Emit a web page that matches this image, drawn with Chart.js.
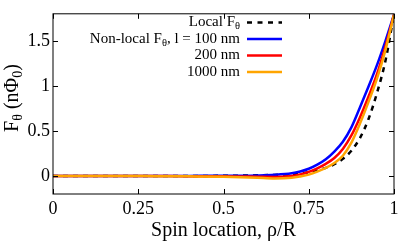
<!DOCTYPE html>
<html lang="en">
<head>
<meta charset="UTF-8">
<title>Spin location chart</title>
<script src="https://cdn.jsdelivr.net/npm/chart.js"></script>
<style>
  html, body { margin: 0; padding: 0; background: #fff; }
  #wrap { width: 407px; height: 244px; }
</style>
</head>
<body>
<div id="wrap"><canvas id="fChart" width="407" height="244"></canvas></div>
<script>
// spin location rho/R
const rho = [0, 0.1, 0.2, 0.3, 0.4, 0.5, 0.55, 0.6, 0.65, 0.7, 0.725, 0.75, 0.775, 0.8, 0.825, 0.85, 0.875, 0.9, 0.925, 0.95, 0.975, 1];
// F_theta in n Phi_0
const localF = [0, 0, 0, 0, 0, 0.002, 0.004, 0.007, 0.012, 0.02, 0.028, 0.04, 0.06, 0.09, 0.13, 0.19, 0.28, 0.42, 0.63, 0.92, 1.28, 1.80];
const nonLocal100 = [0, 0, 0, 0, 0.001, 0.002, 0.003, 0.006, 0.013, 0.03, 0.05, 0.08, 0.125, 0.185, 0.27, 0.38, 0.54, 0.76, 0.99, 1.23, 1.50, 1.79];
const nonLocal200 = [0, 0, 0, -0.001, -0.002, -0.004, -0.006, -0.008, -0.01, 0.0, 0.018, 0.045, 0.085, 0.135, 0.20, 0.30, 0.45, 0.65, 0.88, 1.13, 1.44, 1.79];
const nonLocal1000 = [0, 0, 0, -0.002, -0.004, -0.008, -0.013, -0.02, -0.028, -0.02, -0.005, 0.015, 0.048, 0.09, 0.145, 0.225, 0.37, 0.58, 0.82, 1.08, 1.40, 1.79];

const xTicks = [0, 0.25, 0.5, 0.75, 1];
const yTicks = [0, 0.5, 1, 1.5];

const SERIF = '"Liberation Serif", "DejaVu Serif", serif';

function pts(ys) {
    return rho.map((x, i) => ({ x: x, y: ys[i] }));
}

function lineSet(label, ys, color, order, dash) {
    return {
        label: label,
        data: pts(ys),
        borderColor: color,
        borderWidth: 2.5,
        borderDash: dash || [],
        pointRadius: 0,
        cubicInterpolationMode: 'monotone',
        fill: false,
        order: order
    };
}

// text pieces with optional subscripts
function measureRich(ctx, parts, size) {
    let w = 0;
    parts.forEach(p => {
        ctx.font = (p.sub ? size * 0.7 : size) + 'px ' + SERIF;
        w += ctx.measureText(p.t).width;
    });
    return w;
}
function drawRich(ctx, parts, x, y, size) {
    let cx = x;
    parts.forEach(p => {
        ctx.font = (p.sub ? size * 0.7 : size) + 'px ' + SERIF;
        ctx.fillText(p.t, cx, p.sub ? y + size * 0.25 : y);
        cx += ctx.measureText(p.t).width;
    });
}

const legendRows = [
    { parts: [{ t: 'Local F' }, { t: 'θ', sub: true }], color: '#000', dash: [5, 5.5] },
    { parts: [{ t: 'Non-local F' }, { t: 'θ', sub: true }, { t: ', l = 100 nm' }], color: '#0000ff' },
    { parts: [{ t: '200 nm' }], color: '#ff0000' },
    { parts: [{ t: '1000 nm' }], color: '#ffa500' }
];

const framePlugin = {
    id: 'frame',
    afterDraw(chart) {
        const ctx = chart.ctx;
        const a = chart.chartArea;
        const xs = chart.scales.x, ys = chart.scales.y;
        ctx.save();
        ctx.strokeStyle = '#000';
        ctx.lineWidth = 1;
        ctx.strokeRect(a.left, a.top, a.right - a.left, a.bottom - a.top);
        // inward ticks on all four sides
        ctx.beginPath();
        xTicks.forEach(v => {
            const px = Math.round(xs.getPixelForValue(v)) + 0.5;
            ctx.moveTo(px, a.bottom); ctx.lineTo(px, a.bottom - 5);
            ctx.moveTo(px, a.top); ctx.lineTo(px, a.top + 5);
        });
        yTicks.forEach(v => {
            const py = Math.round(ys.getPixelForValue(v)) + 0.5;
            ctx.moveTo(a.left, py); ctx.lineTo(a.left + 5, py);
            ctx.moveTo(a.right, py); ctx.lineTo(a.right - 5, py);
        });
        ctx.stroke();

        // legend
        ctx.fillStyle = '#000';
        ctx.textBaseline = 'middle';
        ctx.textAlign = 'left';
        legendRows.forEach((r, i) => {
            const y = 22.5 + i * 16.5;
            const w = measureRich(ctx, r.parts, 15);
            drawRich(ctx, r.parts, 240 - w, y, 15);
            ctx.beginPath();
            ctx.strokeStyle = r.color;
            ctx.lineWidth = 2.5;
            ctx.setLineDash(r.dash || []);
            ctx.moveTo(247, y); ctx.lineTo(282, y);
            ctx.stroke();
            ctx.setLineDash([]);
        });

        // y axis title
        ctx.save();
        ctx.translate(13, 98);
        ctx.rotate(-Math.PI / 2);
        const yParts = [{ t: 'F' }, { t: 'θ', sub: true }, { t: ' (nΦ' }, { t: '0', sub: true }, { t: ')' }];
        const yw = measureRich(ctx, yParts, 20);
        drawRich(ctx, yParts, -yw / 2, 0, 20);
        ctx.restore();
        ctx.restore();
    }
};

const ctx = document.getElementById('fChart').getContext('2d');
new Chart(ctx, {
    type: 'line',
    data: {
        datasets: [
            lineSet('Local Fθ', localF, '#000000', 4, [5, 5]),
            lineSet('Non-local Fθ, l = 100 nm', nonLocal100, '#0000ff', 3),
            lineSet('200 nm', nonLocal200, '#ff0000', 2),
            lineSet('1000 nm', nonLocal1000, '#ffa500', 1)
        ]
    },
    options: {
        responsive: false,
        animation: false,
        layout: { padding: { top: 9, right: 13, left: 0, bottom: 0 } },
        plugins: {
            legend: { display: false },
            tooltip: { enabled: false }
        },
        scales: {
            x: {
                type: 'linear',
                min: 0,
                max: 1,
                afterBuildTicks: s => { s.ticks = xTicks.map(v => ({ value: v })); },
                afterFit: s => { s.height = 50; },
                grid: { display: false, drawTicks: false },
                border: { display: false },
                ticks: {
                    padding: 4,
                    color: '#000',
                    font: { family: SERIF, size: 18 },
                    maxRotation: 0,
                    callback: v => String(v)
                },
                title: {
                    display: true,
                    text: 'Spin location, ρ/R',
                    color: '#000',
                    font: { family: SERIF, size: 20 },
                    padding: { top: 0, bottom: 1 }
                }
            },
            y: {
                min: -0.2,
                max: 1.8,
                afterBuildTicks: s => { s.ticks = yTicks.map(v => ({ value: v })); },
                afterFit: s => { s.width = 53; },
                grid: { display: false, drawTicks: false },
                border: { display: false },
                ticks: {
                    padding: 3,
                    color: '#000',
                    font: { family: SERIF, size: 18 },
                    callback: v => String(v)
                }
            }
        }
    },
    plugins: [framePlugin]
});
</script>
</body>
</html>
